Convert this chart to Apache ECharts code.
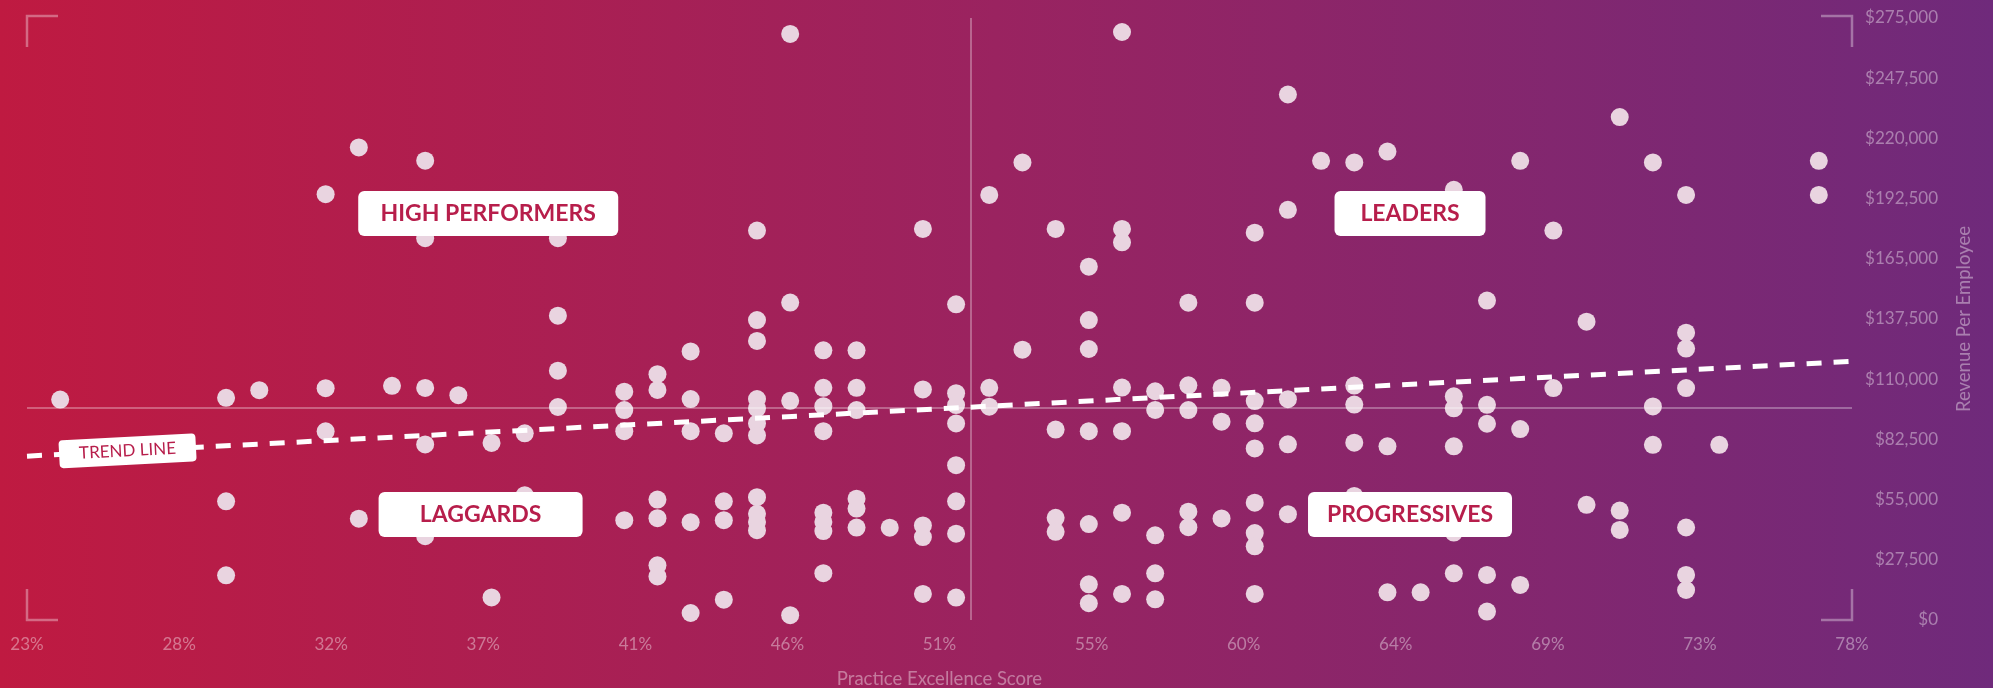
<!DOCTYPE html>
<html>
<head>
<meta charset="utf-8">
<script src="https://cdn.jsdelivr.net/npm/echarts@6/dist/echarts.min.js"></script>
<style>
  html, body { margin: 0; padding: 0; }
  #chart { width: 1993px; height: 688px; }
</style>
</head>
<body>
<div id="chart"></div>
<script>
// practice excellence score (%) per column, and revenue per employee of each dot in that column
const scoreColumns = [24, 29, 30, 32, 33, 34, 35, 36, 37, 38, 39, 41, 42, 43, 44, 45, 46, 47, 48, 49, 50,
  51, 52, 53, 54, 55, 56, 57, 58, 59, 60, 61, 62, 63, 64, 65, 66, 67, 68, 69, 70, 71, 72, 73, 74, 77];
const revenueColumns = [
  [100700],
  [101500, 54200, 20400],
  [105000],
  [194500, 105900, 86200],
  [215900, 46300],
  [107000],
  [209800, 174400, 106000, 80200, 38300],
  [102700],
  [80900, 10300],
  [85300, 57000],
  [174400, 139000, 113900, 97300],
  [104300, 95900, 86250, 45600],
  [112300, 105100, 55000, 46500, 25000, 19900],
  [122700, 100900, 86250, 44700, 3200],
  [85300, 54200, 45600, 9300],
  [177900, 137000, 127500, 100900, 96700, 89800, 84300, 56100, 48500, 44800, 41000],
  [267700, 145000, 100150, 2200],
  [123200, 106050, 97650, 86250, 49000, 44800, 40600, 21400],
  [123200, 106050, 95900, 55400, 50900, 42200],
  [42150],
  [178650, 105300, 43200, 37900, 11900],
  [144200, 103600, 98200, 89800, 70700, 54200, 39450, 10250],
  [194200, 106050, 97450],
  [209000, 123500],
  [178650, 87000, 46700, 40300],
  [161400, 137000, 123800, 86250, 43800, 16300, 7650],
  [268600, 178650, 172550, 106200, 86250, 49000, 11900],
  [104500, 95950, 38700, 21350, 9450],
  [144950, 107200, 95900, 49500, 42400],
  [106050, 90600, 46400],
  [176950, 144950, 100000, 89850, 78400, 53600, 39700, 33650, 11900],
  [240050, 187350, 100850, 80250, 48350],
  [209750],
  [209000, 107100, 98400, 81000, 56700],
  [214000, 79350, 12650],
  [12650],
  [196500, 102200, 96700, 79350, 39950, 21350],
  [145900, 98300, 89650, 20600, 3850],
  [209750, 87200, 16000],
  [177900, 105950],
  [136300, 52600],
  [229750, 50000, 41150],
  [209000, 97550, 80000],
  [194200, 131250, 124000, 105950, 42250, 20600, 13700],
  [80000],
  [209750, 194200]
];
const trendScores = [23, 78];
const trendRevenues = [74850, 118150];
const averageScore = 51.44;
const averageRevenue = 96900;
const xTickLabels = ['23%', '28%', '32%', '37%', '41%', '46%', '51%', '55%', '60%', '64%', '69%', '73%', '78%'];
const yTickLabels = ['$0', '$27,500', '$55,000', '$82,500', '$110,000', '$137,500', '$165,000',
  '$192,500', '$220,000', '$247,500', '$275,000'];
const quadrantNames = ['HIGH PERFORMERS', 'LEADERS', 'LAGGARDS', 'PROGRESSIVES'];

const FONT = 'Lato, "Noto Sans", sans-serif';
const CRIMSON = '#b71e4b';
const FAINT = 'rgba(255,255,255,0.4)';

const chart = echarts.init(document.getElementById('chart'));

const points = [];
scoreColumns.forEach((s, i) => {
  revenueColumns[i].forEach(v => points.push([s, v]));
});

const xMin = 23, xMax = 78;
const xStep = (xMax - xMin) / (xTickLabels.length - 1);
const xTickValues = xTickLabels.map((_, i) => xMin + i * xStep);
const yMax = 275000, yStep = yMax / (yTickLabels.length - 1);

// label boxes: [score, revenue] anchor + box width
const quadrantBoxes = [
  { value: [36.9, 185700], w: 260 },
  { value: [64.68, 185700], w: 151 },
  { value: [36.67, 48200], w: 204 },
  { value: [64.68, 48200], w: 204 }
];

const option = {
  backgroundColor: new echarts.graphic.LinearGradient(0, 0, 1, 0, [
    { offset: 0, color: '#bf1a41' },
    { offset: 0.5, color: '#9a2360' },
    { offset: 1, color: '#6f2a7b' }
  ]),
  animation: false,
  grid: { left: 27, right: 141, top: 18, bottom: 68, outerBoundsMode: 'none' },
  xAxis: {
    type: 'value',
    min: xMin,
    max: xMax,
    splitLine: { show: false },
    axisLine: { show: false },
    axisTick: { show: false },
    axisLabel: {
      customValues: xTickValues,
      formatter: v => xTickLabels[Math.round((v - xMin) / xStep)],
      color: FAINT,
      fontSize: 17,
      fontFamily: FONT,
      margin: 16
    },
    name: 'Practice Excellence Score',
    nameLocation: 'middle',
    nameGap: 50,
    nameTextStyle: { color: FAINT, fontSize: 18.5, fontFamily: FONT }
  },
  yAxis: {
    type: 'value',
    position: 'right',
    min: 0,
    max: yMax,
    interval: yStep,
    splitLine: { show: false },
    axisLine: { show: false },
    axisTick: { show: false },
    axisLabel: {
      formatter: v => yTickLabels[Math.round(v / yStep)],
      color: FAINT,
      fontSize: 17,
      fontFamily: FONT,
      align: 'right',
      margin: 86
    },
    name: 'Revenue Per Employee',
    nameLocation: 'middle',
    nameRotate: 90,
    nameGap: 103,
    nameTextStyle: { color: FAINT, fontSize: 18.5, fontFamily: FONT }
  },
  series: [
    {
      // quadrant dividers at the averages
      type: 'scatter',
      data: [],
      silent: true,
      z: 1,
      markLine: {
        silent: true,
        symbol: 'none',
        label: { show: false },
        lineStyle: { color: 'rgba(255,255,255,0.3)', width: 2, type: 'solid' },
        data: [{ xAxis: averageScore }, { yAxis: averageRevenue }]
      }
    },
    {
      type: 'scatter',
      data: points,
      symbolSize: 18,
      itemStyle: { color: '#e9d4e0', opacity: 1 },
      z: 2
    },
    {
      type: 'line',
      data: trendScores.map((s, i) => [s, trendRevenues[i]]),
      showSymbol: false,
      lineStyle: { color: '#ffffff', width: 5, type: [15, 12] },
      z: 3
    },
    {
      type: 'scatter',
      data: [[26.03, 77300]],
      symbolSize: 0,
      z: 4,
      itemStyle: { opacity: 1 },
      label: {
        show: true,
        position: 'inside',
        formatter: 'TREND LINE',
        rotate: 3,
        width: 137,
        lineHeight: 28,
        align: 'center',
        verticalAlign: 'middle',
        backgroundColor: '#ffffff',
        borderRadius: 4,
        color: CRIMSON,
        fontSize: 17,
        fontFamily: FONT
      }
    },
    {
      type: 'scatter',
      symbolSize: 0,
      z: 5,
      itemStyle: { opacity: 1 },
      data: quadrantBoxes.map((b, i) => ({
        value: b.value,
        name: quadrantNames[i],
        label: { width: b.w }
      })),
      label: {
        show: true,
        position: 'inside',
        formatter: p => p.name,
        lineHeight: 45,
        align: 'center',
        verticalAlign: 'middle',
        backgroundColor: '#ffffff',
        borderRadius: 6,
        color: CRIMSON,
        fontSize: 23,
        fontWeight: 'bold',
        fontFamily: FONT
      }
    }
  ]
};

chart.setOption(option);

// corner brackets around the plot area
const tl = chart.convertToPixel({ gridIndex: 0 }, [xMin, yMax]);
const br = chart.convertToPixel({ gridIndex: 0 }, [xMax, 0]);
const arm = 31;
const topY = tl[1] - 2;
const bracketStyle = { stroke: 'rgba(255,255,255,0.35)', lineWidth: 2.5, fill: null };
const bracket = pts => ({ type: 'polyline', shape: { points: pts }, style: bracketStyle, silent: true });
chart.setOption({
  graphic: [
    bracket([[tl[0] + arm, topY], [tl[0], topY], [tl[0], topY + arm]]),
    bracket([[br[0] - arm, topY], [br[0], topY], [br[0], topY + arm]]),
    bracket([[tl[0], br[1] - arm], [tl[0], br[1]], [tl[0] + arm, br[1]]]),
    bracket([[br[0], br[1] - arm], [br[0], br[1]], [br[0] - arm, br[1]]])
  ]
});
</script>
</body>
</html>
